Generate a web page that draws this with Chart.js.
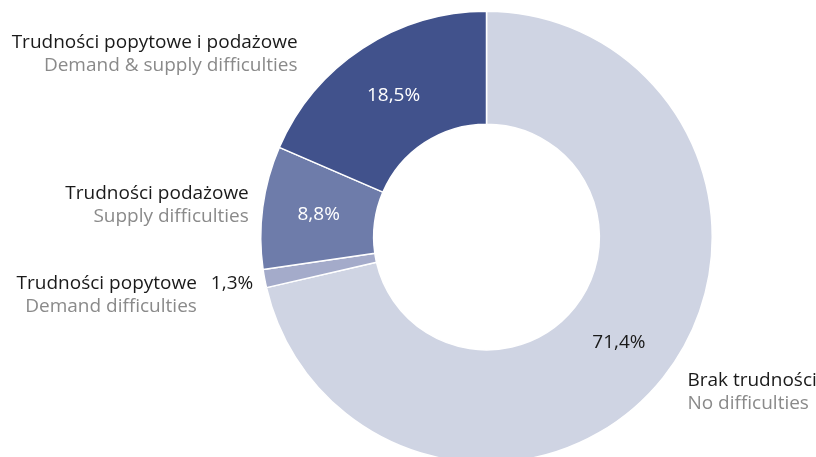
<!DOCTYPE html>
<html>
<head>
<meta charset="utf-8">
<script src="https://cdn.jsdelivr.net/npm/chart.js@4.4.0/dist/chart.umd.min.js"></script>
<style>
  html, body { margin: 0; padding: 0; background: #fff; overflow: hidden; width: 816px; height: 457px; }
  #wrap { position: absolute; left: 0; top: 0; width: 816px; height: 480px; }
</style>
</head>
<body>
<div id="wrap"><canvas id="chart" width="816" height="480"></canvas></div>
<script>
// Data
const labelsPl = ['Brak trudności', 'Trudności popytowe', 'Trudności podażowe', 'Trudności popytowe i podażowe'];
const labelsEn = ['No difficulties', 'Demand difficulties', 'Supply difficulties', 'Demand & supply difficulties'];
const shares = [71.4, 1.3, 8.8, 18.5];
const sliceColors = ['#cfd4e3', '#a4abca', '#6e7caa', '#41528c'];
const pctColors = ['#1a1a1a', '#1a1a1a', '#ffffff', '#ffffff'];

const FONT = '"Open Sans", sans-serif';
const SIZE = 19;

// where each side label sits, relative to the centre, in units of outer radius
// [dx, dy, align]
const sideLabelPos = [
  [0.89, 0.636, 'left'],
  [-1.283, 0.2075, 'right'],
  [-1.053, -0.194, 'right'],
  [-0.837, -0.861, 'right']
];

const fmt = v => v.toFixed(1).replace('.', ',') + '%';

const labelPlugin = {
  id: 'sliceLabels',
  afterDatasetsDraw(chart) {
    const ctx = chart.ctx;
    const meta = chart.getDatasetMeta(0);
    ctx.save();
    ctx.font = SIZE + 'px ' + FONT;
    ctx.textBaseline = 'middle';
    meta.data.forEach((arc, i) => {
      const cx = arc.x, cy = arc.y, R = arc.outerRadius;
      const p = sideLabelPos[i];
      const lx = cx + p[0] * R, ly = cy + p[1] * R;
      ctx.textAlign = p[2];
      ctx.fillStyle = '#1a1a1a';
      ctx.fillText(labelsPl[i], lx, ly);
      ctx.fillStyle = '#8a8a8a';
      ctx.fillText(labelsEn[i], lx, ly + 23);

      ctx.fillStyle = pctColors[i];
      if (i === 1) {
        // thin slice: value goes next to its label
        ctx.textAlign = 'left';
        ctx.fillText(fmt(shares[i]), lx + 14, ly);
      } else {
        const pos = arc.tooltipPosition();
        ctx.textAlign = 'center';
        ctx.fillText(fmt(shares[i]), pos.x, pos.y);
      }
    });
    ctx.restore();
  }
};

new Chart(document.getElementById('chart'), {
  type: 'doughnut',
  data: {
    labels: labelsPl,
    datasets: [{
      data: shares,
      backgroundColor: sliceColors,
      borderColor: '#ffffff',
      borderWidth: 1.5
    }]
  },
  options: {
    responsive: false,
    animation: false,
    cutout: '50%',
    layout: { padding: { left: 260, right: 103, top: 10.5, bottom: 16.5 } },
    plugins: {
      legend: { display: false },
      tooltip: { enabled: false }
    }
  },
  plugins: [labelPlugin]
});
</script>
</body>
</html>
